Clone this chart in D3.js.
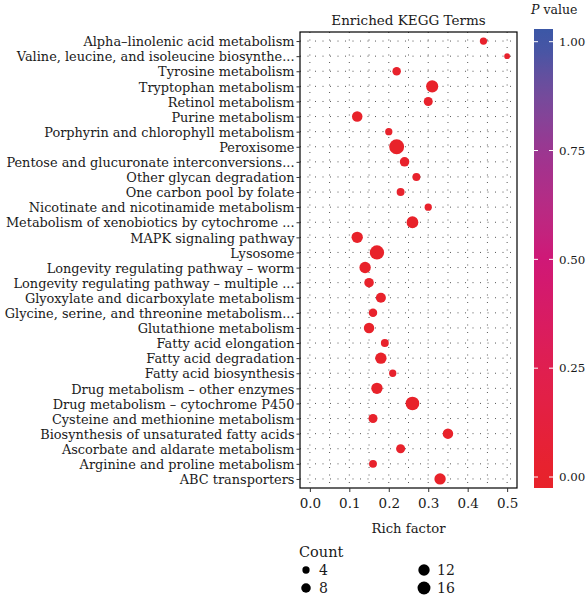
<!DOCTYPE html>
<html><head><meta charset="utf-8">
<script src="https://cdn.jsdelivr.net/npm/d3@7"></script>
<style>body{margin:0;background:#fff}svg{display:block}text{font-family:"DejaVu Serif","Liberation Serif",serif;fill:#1a1a1a}</style>
</head><body><svg id="c" width="587" height="596"></svg>
<script>
const terms = ["Alpha–linolenic acid metabolism","Valine, leucine, and isoleucine biosynthe...","Tyrosine metabolism","Tryptophan metabolism","Retinol metabolism","Purine metabolism","Porphyrin and chlorophyll metabolism","Peroxisome","Pentose and glucuronate interconversions...","Other glycan degradation","One carbon pool by folate","Nicotinate and nicotinamide metabolism","Metabolism of xenobiotics by cytochrome ...","MAPK signaling pathway","Lysosome","Longevity regulating pathway – worm","Longevity regulating pathway – multiple ...","Glyoxylate and dicarboxylate metabolism","Glycine, serine, and threonine metabolism...","Glutathione metabolism","Fatty acid elongation","Fatty acid degradation","Fatty acid biosynthesis","Drug metabolism – other enzymes","Drug metabolism – cytochrome P450","Cysteine and methionine metabolism","Biosynthesis of unsaturated fatty acids","Ascorbate and aldarate metabolism","Arginine and proline metabolism","ABC transporters"];
const richFactor = [0.44,0.50,0.22,0.31,0.30,0.12,0.20,0.22,0.24,0.27,0.23,0.30,0.26,0.12,0.17,0.14,0.15,0.18,0.16,0.15,0.19,0.18,0.21,0.17,0.26,0.16,0.35,0.23,0.16,0.33];
const counts = [4,2,6,14,7,10,4,22,8,5,5,4,13,12,20,12,8,9,6,10,5,12,4,12,18,7,10,7,5,12];
const pValues = [0.01,0.02,0.01,0.00,0.01,0.00,0.01,0.00,0.01,0.01,0.02,0.01,0.00,0.00,0.00,0.00,0.01,0.01,0.01,0.00,0.01,0.00,0.02,0.00,0.00,0.01,0.00,0.01,0.01,0.00];
const xTicks = [0.0,0.1,0.2,0.3,0.4,0.5];
const pTicks = [0.00,0.25,0.50,0.75,1.00];
const legendCounts = [4,8,12,16];

const svg = d3.select("#c");
const P = {l:300, r:517, t:32, b:488};
const x = d3.scaleLinear().domain([-0.025,0.525]).range([P.l,P.r]);
const y = d3.scalePoint().domain(terms).range([P.t,P.b]).padding(0.6);
const rScale = d3.scaleRadial().domain([2,22]).range([2.92,7.48]);
const color = d3.scaleLinear().domain([0,0.25,0.5,0.75,1]).range(["#e8222a","#e01f50","#cf1877","#9c3591","#3b57a6"]).interpolate(d3.interpolateLab).clamp(true);

// grid
const g = svg.append("g");
const minor = d3.range(0,0.55,0.05);
g.selectAll(".vg").data(minor).join("line").attr("x1",d=>x(d)).attr("x2",d=>x(d)).attr("y1",P.t).attr("y2",P.b)
 .attr("stroke","#444").attr("stroke-width",0.9).attr("stroke-dasharray","1,6.5");
g.selectAll(".hg").data(terms).join("line").attr("x1",P.l).attr("x2",P.r).attr("y1",d=>y(d)).attr("y2",d=>y(d))
 .attr("stroke","#444").attr("stroke-width",0.9).attr("stroke-dasharray","1,6.5");

// points
svg.append("g").selectAll("circle").data(terms).join("circle")
 .attr("cx",(d,i)=>x(richFactor[i])).attr("cy",d=>y(d)).attr("r",(d,i)=>rScale(counts[i]))
 .attr("fill",(d,i)=>color(pValues[i]));

// border
svg.append("rect").attr("x",P.l).attr("y",P.t).attr("width",P.r-P.l).attr("height",P.b-P.t).attr("fill","none").attr("stroke","#000").attr("stroke-width",1.2);

// axes
const ya = svg.append("g").attr("transform",`translate(${P.l},0)`).call(d3.axisLeft(y).tickSize(3.5).tickPadding(2));
ya.select(".domain").remove();
ya.selectAll("line").attr("stroke","#333");
ya.selectAll("text").attr("font-size","12.9px").attr("fill","#1a1a1a").attr("dy","0.36em");
const xa = svg.append("g").attr("transform",`translate(0,${P.b})`).call(d3.axisBottom(x).tickValues(xTicks).tickFormat(d3.format(".1f")).tickSize(4).tickPadding(6));
xa.select(".domain").remove();
xa.selectAll("line").attr("stroke","#333");
xa.selectAll("text").attr("font-size","13.5px").attr("fill","#1a1a1a").attr("dy","0.71em");

svg.append("text").attr("x",(P.l+P.r)/2).attr("y",24.5).attr("text-anchor","middle").attr("font-size","13.5px").text("Enriched KEGG Terms");
svg.append("text").attr("x",(P.l+P.r)/2).attr("y",533).attr("text-anchor","middle").attr("font-size","13.2px").text("Rich factor");

// colorbar
const cb = {x:534, w:19, t:29, b:488};
const py = d3.scaleLinear().domain([0,1]).range([477,41.7]);
const defs = svg.append("defs");
const grad = defs.append("linearGradient").attr("id","gr").attr("x1",0).attr("x2",0).attr("y1",1).attr("y2",0);
d3.range(0,1.0001,0.05).forEach(t=>{
  const yy = cb.b - t*(cb.b-cb.t);
  grad.append("stop").attr("offset",t).attr("stop-color",color(py.invert(yy)));
});
svg.append("rect").attr("x",cb.x).attr("y",cb.t).attr("width",cb.w).attr("height",cb.b-cb.t).attr("fill","url(#gr)");
const ca = svg.append("g").attr("transform",`translate(${cb.x+cb.w},0)`).call(d3.axisRight(py).tickValues(pTicks).tickFormat(d3.format(".2f")).tickSize(0).tickPadding(6));
ca.select(".domain").remove();
ca.selectAll("text").attr("font-size","11.8px").attr("fill","#1a1a1a");
svg.append("g").selectAll("line").data(pTicks.flatMap(v=>[[v,cb.x,cb.x+4],[v,cb.x+cb.w-4,cb.x+cb.w]])).join("line")
 .attr("x1",d=>d[1]).attr("x2",d=>d[2]).attr("y1",d=>py(d[0])).attr("y2",d=>py(d[0])).attr("stroke","#fff").attr("stroke-width",1);
const pt = svg.append("text").attr("x",531).attr("y",14).attr("font-size","12.5px");
pt.append("tspan").attr("font-style","italic").text("P");
pt.append("tspan").text(" value");

// size legend
svg.append("text").attr("x",299).attr("y",556.5).attr("font-size","14.5px").text("Count");
const lpos = [[306,570],[306,588],[424,570],[424,588]];
const lg = svg.append("g").selectAll("g").data(legendCounts).join("g").attr("transform",(d,i)=>`translate(${lpos[i][0]},${lpos[i][1]})`);
lg.append("circle").attr("r",d=>rScale(d)).attr("fill","#000");
lg.append("text").attr("x",13).attr("dy","0.36em").attr("font-size","14px").text(d=>d);
</script></body></html>
